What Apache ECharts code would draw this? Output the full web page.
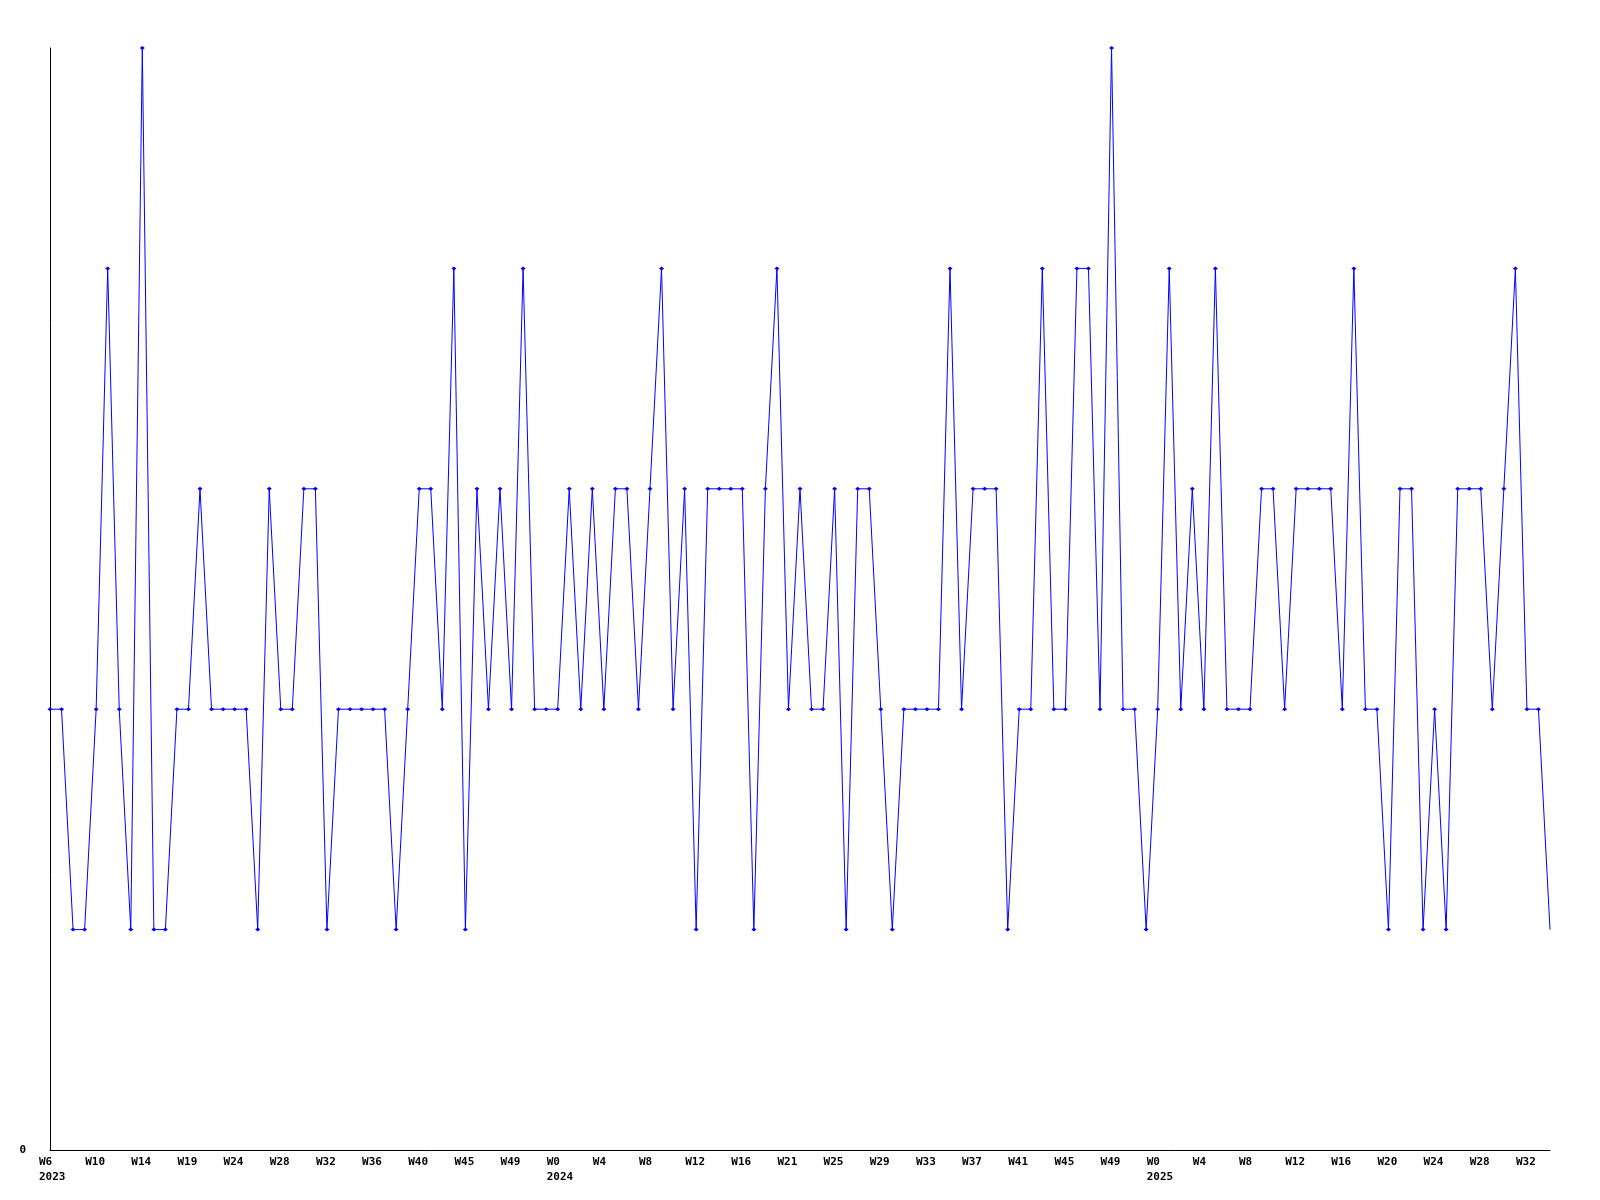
<!DOCTYPE html>
<html>
<head>
<meta charset="utf-8">
<script src="https://cdn.jsdelivr.net/npm/echarts@6/dist/echarts.min.js"></script>
<style>
html,body{margin:0;padding:0;background:#fff;}
#chart{width:1600px;height:1200px;}
</style>
</head>
<body>
<div id="chart"></div>
<script>
// Tick labels shown every 4th point
const tickLabels = [
  'W6\n2023','W10','W14','W19','W24','W28','W32','W36','W40','W45','W49',
  'W0\n2024','W4','W8','W12','W16','W21','W25','W29','W33','W37','W41','W45','W49',
  'W0\n2025','W4','W8','W12','W16','W20','W24','W28','W32'
];

// Weekly values (131 points)
const values = [
  2,2,1,1,2,4,2,1,5,1,
  1,2,2,3,2,2,2,2,1,3,
  2,2,3,3,1,2,2,2,2,2,
  1,2,3,3,2,4,1,3,2,3,
  2,4,2,2,2,3,2,3,2,3,
  3,2,3,4,2,3,1,3,3,3,
  3,1,3,4,2,3,2,2,3,1,
  3,3,2,1,2,2,2,2,4,2,
  3,3,3,1,2,2,4,2,2,4,
  4,2,5,2,2,1,2,4,2,3,
  2,4,2,2,2,3,3,2,3,3,
  3,3,2,4,2,2,1,3,3,1,
  2,1,3,3,3,2,3,4,2,2,
  1
];

const categories = values.map((_, i) => String(i));

const chart = echarts.init(document.getElementById('chart'), null, {renderer: 'canvas'});
const lastIdx = values.length - 1;
chart.setOption({
  animation: false,
  backgroundColor: '#ffffff',
  grid: {left: 50, right: 50, top: 48, bottom: 50, containLabel: false},
  xAxis: {
    type: 'category',
    data: categories,
    boundaryGap: false,
    axisLine: {show: true, lineStyle: {color: '#000', width: 1}},
    axisTick: {show: false},
    splitLine: {show: false},
    axisLabel: {
      interval: 3,
      margin: 5,
      color: '#000',
      fontFamily: 'DejaVu Sans Mono',
      fontWeight: 'bold',
      fontSize: 11,
      lineHeight: 15,
      align: 'left',
      padding: [0, 0, 0, -11],
      formatter: (v, idx) => (idx % 4 === 0 ? (tickLabels[idx / 4] || '') : '')
    }
  },
  yAxis: {
    type: 'value',
    min: 0,
    max: 5,
    interval: 5,
    axisLine: {show: true, lineStyle: {color: '#000', width: 1}},
    axisTick: {show: false},
    splitLine: {show: false},
    axisLabel: {
      margin: 24,
      color: '#000',
      fontFamily: 'DejaVu Sans Mono',
      fontWeight: 'bold',
      fontSize: 11,
      formatter: v => (v === 0 ? '0' : '')
    }
  },
  series: [{
    type: 'line',
    data: values,
    showAllSymbol: true,
    symbol: (v, p) => (p.dataIndex === lastIdx ? 'none' : 'diamond'),
    symbolSize: [5, 4],
    lineStyle: {color: '#0000ff', width: 1},
    itemStyle: {color: '#0000ff', borderWidth: 0},
    emphasis: {disabled: true}
  }]
});
</script>
</body>
</html>
